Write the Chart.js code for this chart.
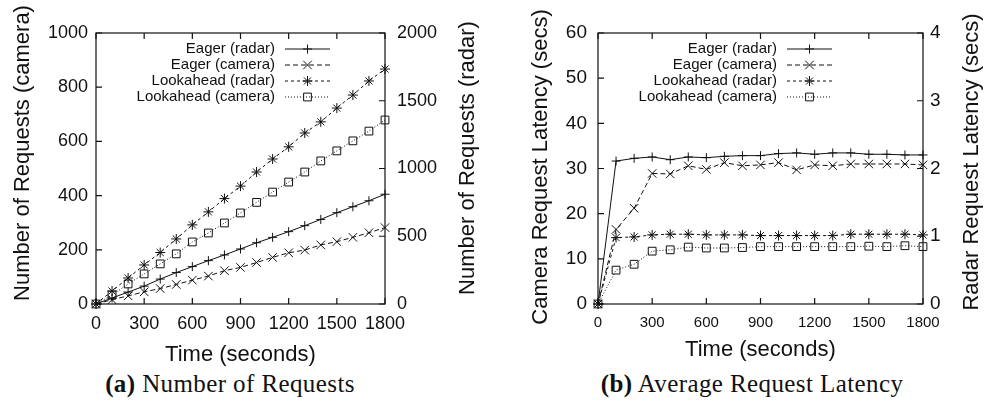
<!DOCTYPE html>
<html>
<head>
<meta charset="utf-8">
<script src="https://cdn.jsdelivr.net/npm/chart.js@4/dist/chart.umd.min.js"></script>
<style>
  html, body { margin: 0; padding: 0; background: #fff; }
  #wrap { position: relative; width: 994px; height: 404px; overflow: hidden; }
  canvas { position: absolute; top: 0; }
  .cap {
    position: absolute; top: 371px; text-align: center; letter-spacing: 0.4px;
    font-family: "Liberation Serif", serif; font-size: 25px; line-height: 1; color: #111;
  }
  .cap b { font-weight: bold; }
</style>
</head>
<body>
<div id="wrap">
  <canvas id="chartA" width="497" height="370" style="left:0"></canvas>
  <canvas id="chartB" width="497" height="370" style="left:497px"></canvas>
  <div class="cap" style="left:0; width:460px;"><b>(a)</b> Number of Requests</div>
  <div class="cap" style="left:552px; width:400px;"><b>(b)</b> Average Request Latency</div>
</div>
<script>
// ---- datos ----
const timeSecs = [0, 100, 200, 300, 400, 500, 600, 700, 800, 900, 1000, 1100, 1200, 1300, 1400, 1500, 1600, 1700, 1800];

const seriesNames = ["Eager (radar)", "Eager (camera)", "Lookahead (radar)", "Lookahead (camera)"];

// (a) numero de peticiones
const reqEagerRadar = [0, 44, 88, 132, 184, 232, 276, 320, 362, 406, 452, 492, 534, 578, 624, 674, 718, 762, 810];
const reqEagerCamera = [0, 16, 30, 45, 57, 72, 88, 103, 123, 135, 153, 172, 189, 199, 218, 230, 246, 263, 282];
const reqLookRadar = [0, 96, 192, 288, 380, 480, 584, 680, 778, 870, 974, 1070, 1160, 1262, 1344, 1446, 1542, 1646, 1734];
const reqLookCamera = [0, 33, 74, 111, 148, 185, 229, 262, 299, 336, 375, 413, 450, 487, 528, 565, 602, 638, 679];

// (b) latencia media (secs)
const latEagerRadar = [0, 2.11, 2.15, 2.17, 2.13, 2.17, 2.16, 2.18, 2.19, 2.19, 2.22, 2.23, 2.21, 2.23, 2.23, 2.21, 2.21, 2.20, 2.20];
const latEagerCamera = [0, 16.5, 21.2, 28.9, 28.8, 30.6, 29.8, 31.3, 30.6, 30.8, 31.3, 29.7, 30.8, 30.6, 31.0, 31.0, 31.0, 31.0, 30.8];
const latLookRadar = [0, 0.98, 0.99, 1.02, 1.03, 1.03, 1.02, 1.02, 1.02, 1.01, 1.01, 1.01, 1.01, 1.01, 1.03, 1.03, 1.03, 1.03, 1.02];
const latLookCamera = [0, 7.5, 8.8, 11.7, 12.0, 12.6, 12.4, 12.4, 12.5, 12.7, 12.7, 12.7, 12.7, 12.7, 12.7, 12.8, 12.7, 12.9, 12.7];

// ---- estilos ----
const INK = "#111";
const SANS = "'Liberation Sans', Arial, sans-serif";
const styles = [
  { pointStyle: "cross",    pointRadius: 4.5, borderDash: [] },
  { pointStyle: "crossRot", pointRadius: 6,   borderDash: [5, 3] },
  { pointStyle: "star",     pointRadius: 5,   borderDash: [3, 3] },
  { pointStyle: "rect",     pointRadius: 5.5, borderDash: [1, 2] }
];

function makeSet(i, values, axis) {
  return {
    label: seriesNames[i],
    data: timeSecs.map((t, k) => ({ x: t, y: values[k] })),
    yAxisID: axis,
    borderColor: INK,
    backgroundColor: "rgba(0,0,0,0)",
    borderWidth: 1,
    borderDash: styles[i].borderDash,
    pointStyle: styles[i].pointStyle,
    pointRadius: styles[i].pointRadius,
    pointBorderWidth: 1,
    pointBorderColor: INK,
    pointBackgroundColor: "rgba(0,0,0,0)",
    tension: 0,
    clip: false
  };
}

// marco + marcas hacia dentro (estilo gnuplot)
const frameTicks = {
  id: "frameTicks",
  beforeDatasetsDraw(chart) {
    const { ctx, chartArea: a, scales } = chart;
    const len = 6;
    ctx.save();
    ctx.strokeStyle = INK;
    ctx.lineWidth = 1.2;
    ctx.setLineDash([]);
    ctx.strokeRect(a.left, a.top, a.right - a.left, a.bottom - a.top);
    ctx.beginPath();
    scales.x.ticks.forEach(t => {
      const px = scales.x.getPixelForValue(t.value);
      ctx.moveTo(px, a.bottom); ctx.lineTo(px, a.bottom - len);
      ctx.moveTo(px, a.top); ctx.lineTo(px, a.top + len);
    });
    scales.y.ticks.forEach(t => {
      const py = scales.y.getPixelForValue(t.value);
      ctx.moveTo(a.left, py); ctx.lineTo(a.left + len, py);
    });
    scales.y2.ticks.forEach(t => {
      const py = scales.y2.getPixelForValue(t.value);
      ctx.moveTo(a.right, py); ctx.lineTo(a.right - len, py);
    });
    ctx.stroke();
    ctx.restore();
  }
};

// titulos verticales (posicion libre)
const sideTitles = {
  id: "sideTitles",
  afterDraw(chart, args, opts) {
    const ctx = chart.ctx;
    ctx.save();
    ctx.fillStyle = INK;
    ctx.font = "22px " + SANS;
    ctx.textAlign = "center";
    ctx.textBaseline = "middle";
    [opts.left, opts.right].forEach(t => {
      if (!t) return;
      ctx.save();
      ctx.translate(t.x, t.y);
      ctx.rotate(-Math.PI / 2);
      ctx.fillText(t.text, 0, 0);
      ctx.restore();
    });
    ctx.restore();
  }
};

// leyenda arriba: texto alineado a la derecha, muestra de linea a la derecha
const boxLegend = {
  id: "boxLegend",
  afterDatasetsDraw(chart) {
    const { ctx, chartArea: a } = chart;
    const textRight = a.left + 179;
    const x0 = a.left + 189, x1 = a.left + 234;
    ctx.save();
    ctx.font = "15px " + SANS;
    ctx.strokeStyle = INK;
    ctx.textAlign = "right";
    ctx.textBaseline = "middle";
    chart.data.datasets.forEach((ds, i) => {
      const y = a.top + 16 + 16 * i;
      ctx.fillStyle = INK;
      ctx.fillText(ds.label, textRight, y);
      ctx.lineWidth = 1;
      ctx.setLineDash(ds.borderDash);
      ctx.beginPath();
      ctx.moveTo(x0, y); ctx.lineTo(x1, y);
      ctx.stroke();
      ctx.setLineDash([]);
      ctx.fillStyle = "rgba(0,0,0,0)";
      Chart.helpers.drawPoint(ctx, {
        pointStyle: ds.pointStyle, radius: ds.pointRadius, rotation: 0, borderWidth: 1
      }, (x0 + x1) / 2, y);
    });
    ctx.restore();
  }
};

function fixWidth(w) { return scale => { scale.width = w; }; }
function fixHeight(h) { return scale => { scale.height = h; }; }
const plainNum = v => String(v);

function makeChart(id, cfg) {
  return new Chart(document.getElementById(id), {
    type: "line",
    data: { datasets: cfg.datasets },
    options: {
      responsive: false,
      animation: false,
      devicePixelRatio: 1,
      layout: { padding: { top: 33, left: 0, right: 0, bottom: 0 } },
      plugins: {
        legend: { display: false },
        tooltip: { enabled: false },
        sideTitles: cfg.titles
      },
      scales: {
        x: {
          type: "linear", min: 0, max: 1800,
          afterFit: fixHeight(66),
          grid: { display: false, drawTicks: false },
          border: { display: false },
          ticks: { stepSize: 300, padding: cfg.xPad, color: INK, font: { family: SANS, size: cfg.xFont },
                   maxRotation: 0, minRotation: 0, autoSkip: false, callback: plainNum },
          title: { display: true, text: "Time (seconds)", color: INK, font: { family: SANS, size: 22 },
                   padding: { top: 0, bottom: cfg.xTitlePad } }
        },
        y: {
          position: "left", min: 0, max: cfg.yMax,
          afterFit: fixWidth(cfg.yWidth),
          grid: { display: false, drawTicks: false },
          border: { display: false },
          ticks: { stepSize: cfg.yStep, padding: cfg.yPad, color: INK, font: { family: SANS, size: cfg.yFont },
                   callback: plainNum }
        },
        y2: {
          position: "right", min: 0, max: cfg.y2Max,
          afterFit: fixWidth(cfg.y2Width),
          grid: { display: false, drawTicks: false },
          border: { display: false },
          ticks: { stepSize: cfg.y2Step, padding: cfg.y2Pad, color: INK, font: { family: SANS, size: cfg.yFont },
                   callback: plainNum }
        }
      }
    },
    plugins: [frameTicks, boxLegend, sideTitles]
  });
}

// (a)
makeChart("chartA", {
  datasets: [
    makeSet(0, reqEagerRadar, "y2"),
    makeSet(1, reqEagerCamera, "y"),
    makeSet(2, reqLookRadar, "y2"),
    makeSet(3, reqLookCamera, "y")
  ],
  yMax: 1000, yStep: 200, y2Max: 2000, y2Step: 500,
  yWidth: 96, y2Width: 112,
  yPad: 8, y2Pad: 12, xPad: 9, yFont: 18, xFont: 18, xTitlePad: 2,
  titles: {
    left: { text: "Number of Requests (camera)", x: 23, y: 153 },
    right: { text: "Number of Requests (radar)", x: 468, y: 158 }
  }
});

// (b)
makeChart("chartB", {
  datasets: [
    makeSet(0, latEagerRadar, "y2"),
    makeSet(1, latEagerCamera, "y"),
    makeSet(2, latLookRadar, "y2"),
    makeSet(3, latLookCamera, "y")
  ],
  yMax: 60, yStep: 10, y2Max: 4, y2Step: 1,
  yWidth: 101, y2Width: 71,
  yPad: 11, y2Pad: 7, xPad: 10, yFont: 19, xFont: 15, xTitlePad: 7,
  titles: {
    left: { text: "Camera Request Latency (secs)", x: 44, y: 167 },
    right: { text: "Radar Request Latency (secs)", x: 475, y: 162 }
  }
});
</script>
</body>
</html>
